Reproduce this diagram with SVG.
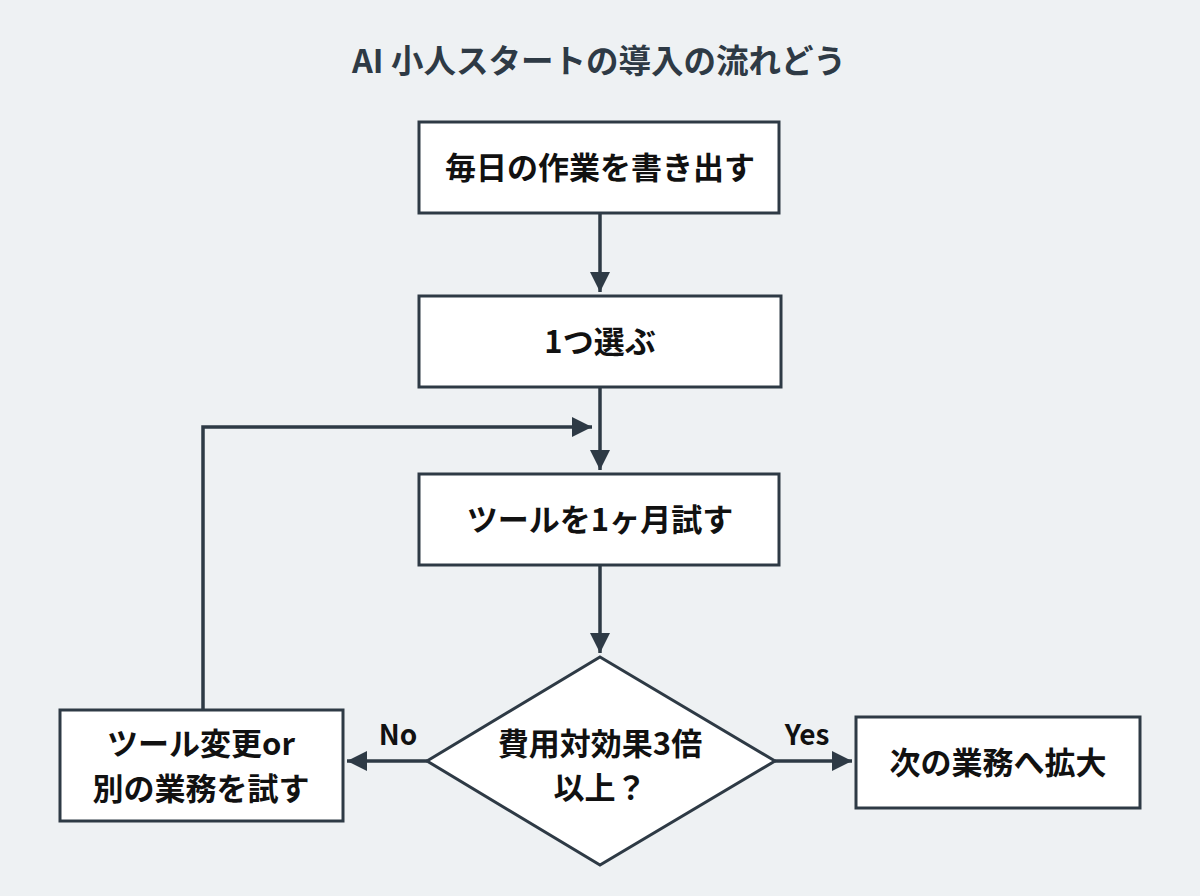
<svg xmlns="http://www.w3.org/2000/svg" width="1200" height="896" viewBox="0 0 1200 896">
<style>
text{font-family:"Noto Sans CJK JP","Noto Sans",sans-serif;font-weight:bold;fill:#111;text-anchor:middle}
.n{fill:#fff;stroke:#2e3a45;stroke-width:3}
.c{fill:none;stroke:#2e3a45;stroke-width:3.5}
.t{font-size:31px}
</style>
<defs>
<marker id="b" markerWidth="22" markerHeight="22" refX="20" refY="11" orient="auto" markerUnits="userSpaceOnUse"><path d="M0,1 L20,11 L0,21 z" fill="#2e3a45"/></marker></defs>
<rect width="1200" height="896" fill="#eef1f3"/>
<text x="599" y="73" font-size="32.5" style="fill:#2e3a45">AI 小人スタートの導入の流れどう</text>
<g id="connectors">
<path class="c" d="M600 213 V292" marker-end="url(#b)"/>
<path class="c" d="M600 387 V470" marker-end="url(#b)"/>
<path class="c" d="M203 710 V427 H592" marker-end="url(#b)"/>
<path class="c" d="M600 565 V653" marker-end="url(#b)"/>
<path class="c" d="M427 761 H347" marker-end="url(#b)"/>
<path class="c" d="M775 761 H852" marker-end="url(#b)"/>
<text x="398" y="745" font-size="28">No</text>
<text x="807" y="745" font-size="28">Yes</text>
</g>
<g id="n1"><rect class="n" x="419" y="122" width="360" height="91"/><text class="t" x="600" y="179">毎日の作業を書き出す</text></g>
<g id="n2"><rect class="n" x="419" y="296" width="362" height="91"/><text class="t" x="600" y="353">1つ選ぶ</text></g>
<g id="n3"><rect class="n" x="419" y="474" width="360" height="91"/><text class="t" x="600" y="531">ツールを1ヶ月試す</text></g>
<g id="n4"><polygon class="n" points="600,657 775,761 600,865 427,761"/><text class="t" x="600" y="755">費用対効果3倍</text><text class="t" x="600" y="799">以上？</text></g>
<g id="n5"><rect class="n" x="60" y="710" width="283" height="111"/><text class="t" x="201" y="755">ツール変更or</text><text class="t" x="201" y="800">別の業務を試す</text></g>
<g id="n6"><rect class="n" x="856" y="717" width="284" height="91"/><text class="t" x="998" y="774">次の業務へ拡大</text></g>
</svg>
